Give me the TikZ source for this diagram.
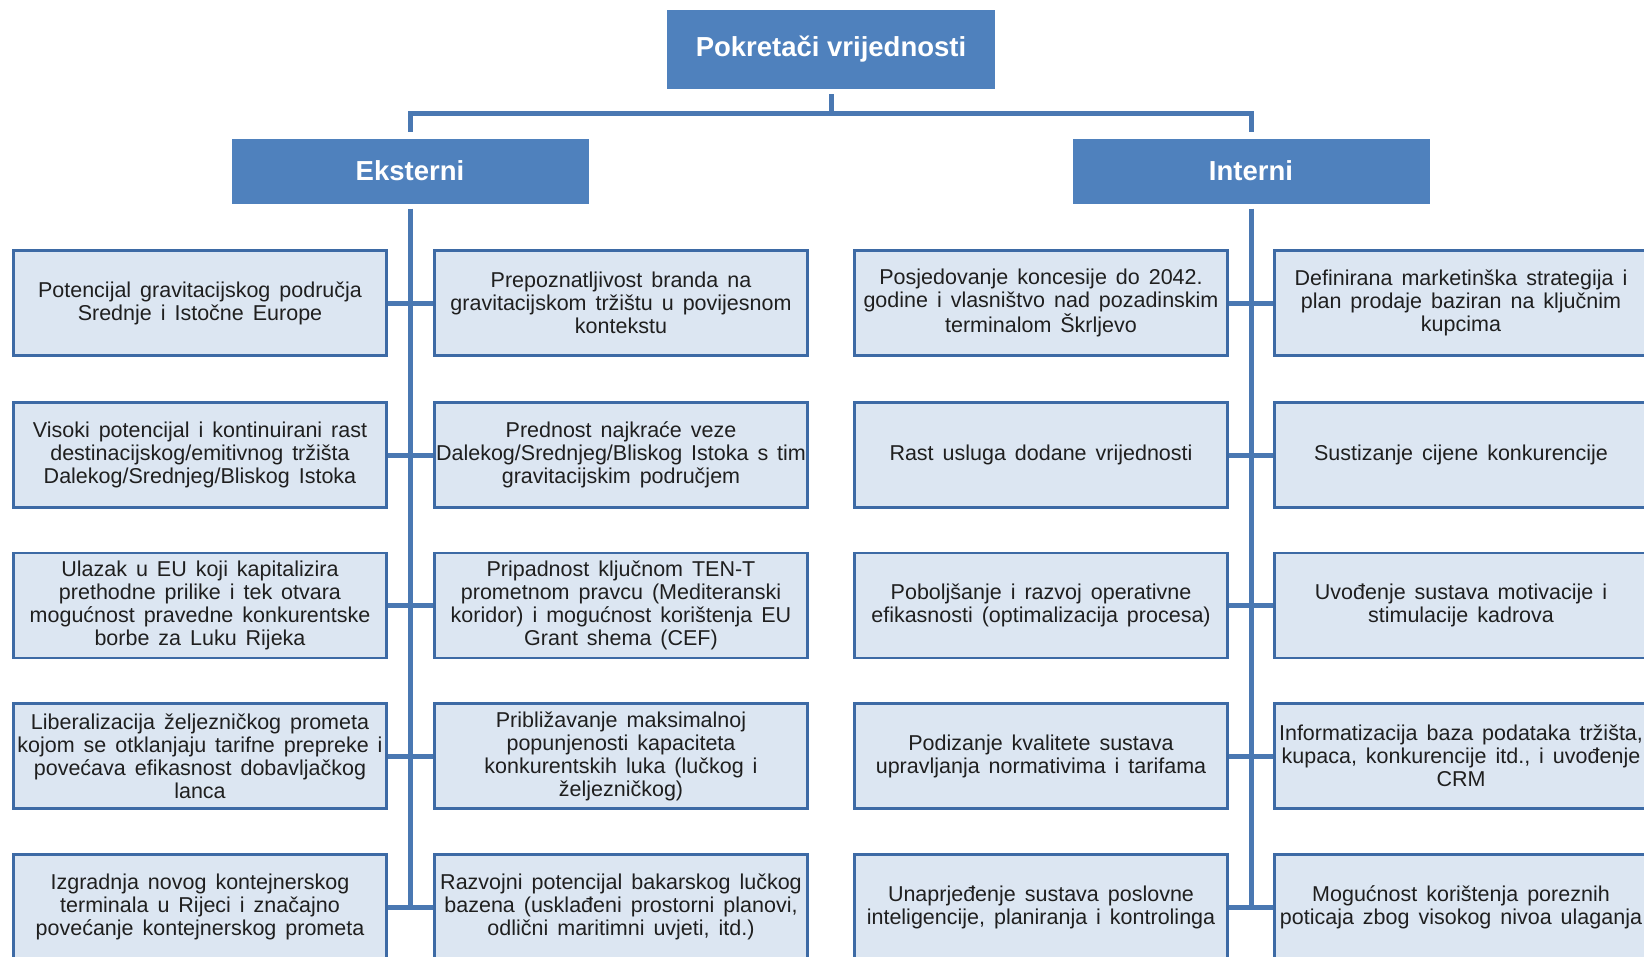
\documentclass[tikz,border=0pt]{standalone}
\usepackage{fontspec}
\setmainfont{Liberation Sans}
\newfontfamily\leaffont[WordSpace=1.5]{Liberation Sans}
\usepackage{tikz}
\usetikzlibrary{calc}

\definecolor{headblue}{HTML}{4F81BD}
\definecolor{linkblue}{HTML}{4A78B2}
\definecolor{edgeblue}{HTML}{3D6AA5}
\definecolor{leaffill}{HTML}{DCE6F2}
\definecolor{textgray}{HTML}{1F1F1F}

\tikzset{
    head/.style={fill=headblue, text=white, inner sep=0pt,
        font=\bfseries\fontsize{27.5}{30}\selectfont},
    leaf/.style={draw=edgeblue, line width=2.5pt, fill=leaffill, text=textgray,
        align=center, inner sep=0pt, minimum width=373pt, minimum height=105pt,
        font=\leaffont\fontsize{21.5}{23}\selectfont},
    link/.style={draw=linkblue, line width=5pt},
}

\begin{document}
\begin{tikzpicture}[x=1pt, y=-1pt]
    %%Background
    \useasboundingbox (0,0) rectangle (1644,956);
    \clip (0,0) rectangle (1644,956);

    %%Heads
    \node[head, minimum width=328pt, minimum height=79pt] (top) at (831,49.5) {Pokretači vrijednosti};
    \node[head, minimum width=357pt, minimum height=65pt] (eks) at (410,171) {Eksterni};
    \node[head, minimum width=357pt, minimum height=65pt] (int) at (1251,171) {Interni};

    %%Eksterni
    \node[leaf] (eA1) at (200,303) {Potencijal gravitacijskog područja\\Srednje i Istočne Europe};
    \node[leaf] (eA2) at (200,455) {Visoki potencijal i kontinuirani rast\\destinacijskog/emitivnog tržišta\\Dalekog/Srednjeg/Bliskog Istoka};
    \node[leaf] (eA3) at (200,605.5) {Ulazak u EU koji kapitalizira\\prethodne prilike i tek otvara\\mogućnost pravedne konkurentske\\borbe za Luku Rijeka};
    \node[leaf] (eA4) at (200,756) {Liberalizacija željezničkog prometa\\kojom se otklanjaju tarifne prepreke i\\povećava efikasnost dobavljačkog\\lanca};
    \node[leaf] (eA5) at (200,907) {Izgradnja novog kontejnerskog\\terminala u Rijeci i značajno\\povećanje kontejnerskog prometa};

    \node[leaf] (eB1) at (621,303) {Prepoznatljivost branda na\\gravitacijskom tržištu u povijesnom\\kontekstu};
    \node[leaf] (eB2) at (621,455) {Prednost najkraće veze\\Dalekog/Srednjeg/Bliskog Istoka s tim\\gravitacijskim područjem};
    \node[leaf] (eB3) at (621,605.5) {Pripadnost ključnom TEN-T\\prometnom pravcu (Mediteranski\\koridor) i mogućnost korištenja EU\\Grant shema (CEF)};
    \node[leaf] (eB4) at (621,756) {Približavanje maksimalnoj\\popunjenosti kapaciteta\\konkurentskih luka (lučkog i\\željezničkog)};
    \node[leaf] (eB5) at (621,907) {Razvojni potencijal bakarskog lučkog\\bazena (usklađeni prostorni planovi,\\odlični maritimni uvjeti, itd.)};

    %%Interni
    \node[leaf] (iA1) at (1041,303) {Posjedovanje koncesije do 2042.\\godine i vlasništvo nad pozadinskim\\terminalom Škrljevo};
    \node[leaf] (iA2) at (1041,455) {Rast usluga dodane vrijednosti};
    \node[leaf] (iA3) at (1041,605.5) {Poboljšanje i razvoj operativne\\efikasnosti (optimalizacija procesa)};
    \node[leaf] (iA4) at (1041,756) {Podizanje kvalitete sustava\\upravljanja normativima i tarifama};
    \node[leaf] (iA5) at (1041,907) {Unaprjeđenje sustava poslovne\\inteligencije, planiranja i kontrolinga};

    \node[leaf] (iB1) at (1461,303) {Definirana marketinška strategija i\\plan prodaje baziran na ključnim\\kupcima};
    \node[leaf] (iB2) at (1461,455) {Sustizanje cijene konkurencije};
    \node[leaf] (iB3) at (1461,605.5) {Uvođenje sustava motivacije i\\stimulacije kadrova};
    \node[leaf] (iB4) at (1461,756) {Informatizacija baza podataka tržišta,\\kupaca, konkurencije itd., i uvođenje\\CRM};
    \node[leaf] (iB5) at (1461,907) {Mogućnost korištenja poreznih\\poticaja zbog visokog nivoa ulaganja};

    %%Links
    \coordinate (bar) at (831,113);
    \draw[link, shorten <=5pt] (top.south) -- (bar);
    \draw[link, shorten >=6pt] (bar) -| (eks.north);
    \draw[link, shorten >=6pt] (bar) -| (int.north);

    \draw[link, shorten <=5pt] (eks.south) -- (eks.south |- eA5.east);
    \draw[link, shorten <=5pt] (int.south) -- (int.south |- iA5.east);

    \draw[link] (eA1.east) -- (eB1.west);
    \draw[link] (eA2.east) -- (eB2.west);
    \draw[link] (eA3.east) -- (eB3.west);
    \draw[link] (eA4.east) -- (eB4.west);
    \draw[link] (eA5.east) -- (eB5.west);
    \draw[link] (iA1.east) -- (iB1.west);
    \draw[link] (iA2.east) -- (iB2.west);
    \draw[link] (iA3.east) -- (iB3.west);
    \draw[link] (iA4.east) -- (iB4.west);
    \draw[link] (iA5.east) -- (iB5.west);
\end{tikzpicture}
\end{document}
